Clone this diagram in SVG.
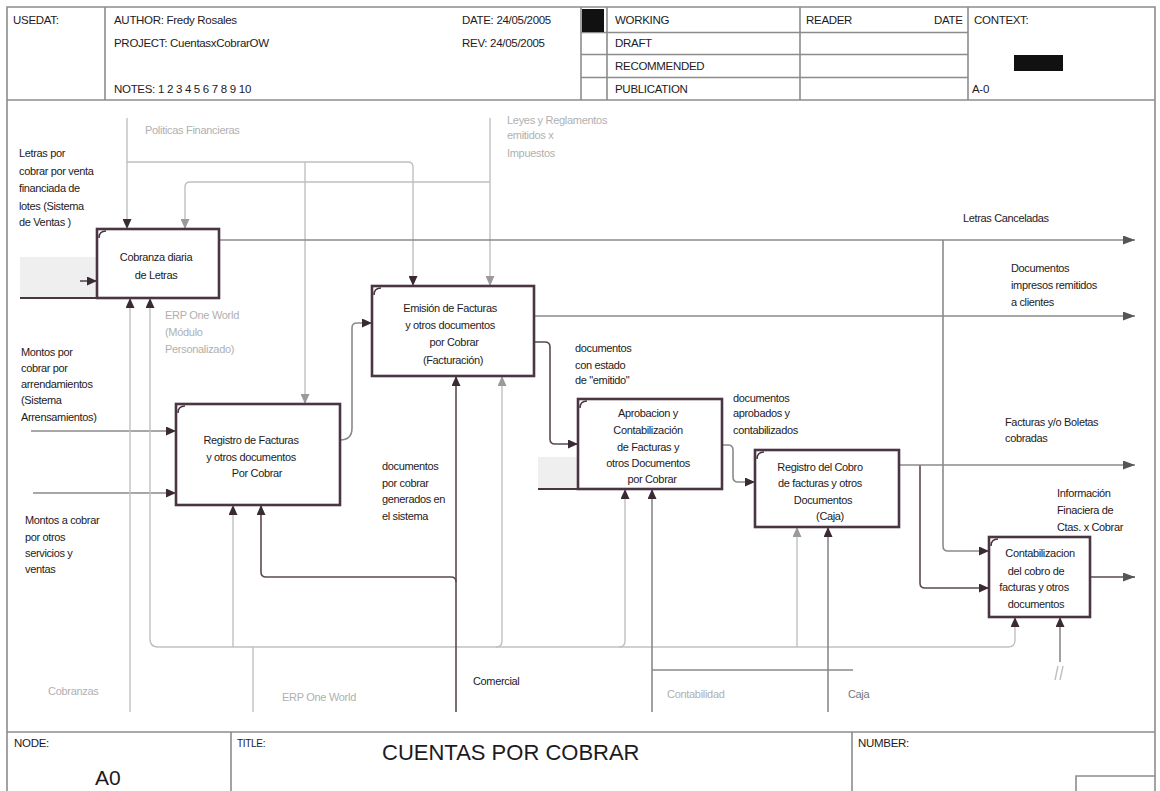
<svg xmlns="http://www.w3.org/2000/svg" width="1160" height="791" viewBox="0 0 1160 791">
<style>
text{font-family:"Liberation Sans",Arial,sans-serif;fill:#1e1a1d}
.h{font-size:11.5px;letter-spacing:-0.3px}
.l{font-size:11px;letter-spacing:-0.35px}
.f{font-size:11px;letter-spacing:-0.3px;fill:#b0b0b0}
.bt{font-size:11px;letter-spacing:-0.35px;text-anchor:middle}
.frame{fill:none;stroke:#8c8c8c;stroke-width:1.6}
.box{fill:#fff;stroke:#4a3542;stroke-width:2.6}
.corner{fill:none;stroke:#4a3542;stroke-width:1.5}
.c{fill:none;stroke-linejoin:round}
.lg{stroke:#c0c0c0;stroke-width:1.4}
.md{stroke:#8a8a8a;stroke-width:1.6}
.dk{stroke:#5a4a55;stroke-width:1.6}
.shade{fill:#efefef}
</style>
<defs>
<marker id="a" markerUnits="userSpaceOnUse" markerWidth="11" markerHeight="9" refX="10" refY="4.5" orient="auto"><path d="M0,0 L10,4.5 L0,9 z" fill="#3a2a34"/></marker>
<marker id="g" markerUnits="userSpaceOnUse" markerWidth="11" markerHeight="9" refX="10" refY="4.5" orient="auto"><path d="M0,0 L10,4.5 L0,9 z" fill="#9a9a9a"/></marker>
<marker id="m" markerUnits="userSpaceOnUse" markerWidth="13" markerHeight="9" refX="12" refY="4.5" orient="auto"><path d="M0,0 L12,4.5 L0,9 z" fill="#555"/></marker>
</defs>
<rect width="1160" height="791" fill="#fff"/>

<g id="frame">
<path class="frame" d="M7,791 V7 H1155 V791"/>
<path class="frame" d="M7,100 H1155"/>
<path class="frame" d="M105,7 V100"/>
<path class="frame" d="M581,7 V100 M607,7 V100 M800,7 V100 M968,7 V100"/>
<path class="frame" d="M581,32.5 H968 M581,54.5 H968 M581,77.5 H968"/>
<rect x="582" y="9" width="22" height="23" fill="#111"/>
<rect x="1014" y="55" width="49" height="16" fill="#111"/>
<text class="h" x="13" y="24">USEDAT:</text>
<text class="h" x="114" y="24">AUTHOR: Fredy Rosales</text>
<text class="h" x="114" y="47">PROJECT: CuentasxCobrarOW</text>
<text class="h" x="114" y="93">NOTES: 1 2 3 4 5 6 7 8 9 10</text>
<text class="h" x="462" y="24">DATE: 24/05/2005</text>
<text class="h" x="462" y="47">REV: 24/05/2005</text>
<text class="h" x="615" y="24">WORKING</text>
<text class="h" x="615" y="47">DRAFT</text>
<text class="h" x="615" y="70">RECOMMENDED</text>
<text class="h" x="615" y="93">PUBLICATION</text>
<text class="h" x="806" y="24">READER</text>
<text class="h" x="934" y="24">DATE</text>
<text class="h" x="974" y="24">CONTEXT:</text>
<text class="h" x="972" y="93">A-0</text>
<path class="frame" d="M7,732 H1155"/>
<path class="frame" d="M231,732 V791 M852,732 V791"/>
<path class="frame" d="M1076,791 V776 H1155"/>
<text class="h" x="14" y="747">NODE:</text>
<text x="95" y="785" style="font-size:21px">A0</text>
<text class="h" x="237" y="747" style="font-size:10px">TITLE:</text>
<text x="382" y="760" style="font-size:22px">CUENTAS POR COBRAR</text>
<text class="h" x="858" y="747">NUMBER:</text>
</g>

<g id="shading">
<rect class="shade" x="20" y="257" width="77" height="41"/>
<path d="M20,298 H97" stroke="#4a3542" stroke-width="2"/>
<rect class="shade" x="538" y="457" width="40" height="32"/>
<path d="M538,489 H578" stroke="#4a3542" stroke-width="2"/>
</g>

<g id="connectors">
<path class="c lg" d="M127,118 V229" marker-end="url(#a)"/>
<path class="c lg" d="M127,162 H408 Q413,162 413,167 V286" marker-end="url(#a)"/>
<path class="c lg" d="M305,162 V404" marker-end="url(#g)"/>
<path class="c lg" d="M490,118 V286" marker-end="url(#g)"/>
<path class="c lg" d="M490,182 H190 Q185,182 185,187 V229" marker-end="url(#g)"/>
<path class="c dk" d="M80,281 H97" marker-end="url(#a)"/>
<path class="c md" d="M31,431 H176" marker-end="url(#a)"/>
<path class="c md" d="M33,493 H176" marker-end="url(#a)"/>
<path class="c md" d="M340,440 Q352,440 352,428 V328 Q352,323 357,323 H372" marker-end="url(#a)"/>
<path class="c dk" d="M534,342 H545 Q550,342 550,347 V439 Q550,444 555,444 H578" marker-end="url(#a)"/>
<path class="c md" d="M722,445 H728 Q733,445 733,450 V477 Q733,482 738,482 H755" marker-end="url(#a)"/>
<path class="c dk" d="M920,465 V583 Q920,588 925,588 H989" marker-end="url(#a)"/>
<path class="c md" d="M943,240 V546 Q943,551 948,551 H989" marker-end="url(#a)"/>
<path class="c md" d="M219,240 H1135" marker-end="url(#m)"/>
<path class="c md" d="M534,316 H1135" marker-end="url(#m)"/>
<path class="c md" d="M899,465 H1135" marker-end="url(#m)"/>
<path class="c dk" d="M1090,577 H1135" marker-end="url(#m)"/>
<path class="c lg" d="M130,712 V298" marker-end="url(#a)"/>
<path class="c lg" d="M158,647 Q150,647 150,639 V298" marker-end="url(#a)"/>
<path class="c lg" d="M158,647 H1008"/>
<path class="c lg" d="M233,647 V505" marker-end="url(#a)"/>
<path class="c lg" d="M253,712 V647"/>
<path class="c lg" d="M496,647 Q502,647 502,641 V376" marker-end="url(#g)"/>
<path class="c lg" d="M619,647 Q625,647 625,641 V489" marker-end="url(#a)"/>
<path class="c lg" d="M797,647 V527" marker-end="url(#g)"/>
<path class="c lg" d="M1008,647 Q1015,647 1015,640 V617" marker-end="url(#a)"/>
<path class="c dk" d="M456,712 V376" marker-end="url(#a)"/>
<path class="c dk" d="M456,582 Q456,577 451,577 H266 Q261,577 261,572 V505" marker-end="url(#a)"/>
<path class="c md" d="M652,712 V489" marker-end="url(#a)"/>
<path class="c md" d="M652,670 H853"/>
<path class="c md" d="M828,712 V527" marker-end="url(#a)"/>
<path class="c md" d="M1060,662 V617" marker-end="url(#a)"/>
<path class="c lg" d="M1058,666 L1055,680 M1063,666 L1060,680"/>
</g>

<g id="node-a1">
<rect class="box" x="97" y="229" width="122" height="69"/>
<path class="corner" d="M99,238 Q99,231 106,231"/>
<text class="bt" x="156" y="261">Cobranza diaria</text>
<text class="bt" x="156" y="279">de Letras</text>
</g>
<g id="node-a2">
<rect class="box" x="176" y="404" width="164" height="101"/>
<path class="corner" d="M178,413 Q178,406 185,406"/>
<text class="bt" x="251" y="444">Registro de Facturas</text>
<text class="bt" x="251" y="461">y otros documentos</text>
<text class="bt" x="257" y="477">Por Cobrar</text>
</g>
<g id="node-a3">
<rect class="box" x="372" y="286" width="162" height="90"/>
<path class="corner" d="M374,295 Q374,288 381,288"/>
<text class="bt" x="450" y="312">Emisión de Facturas</text>
<text class="bt" x="450" y="329">y otros documentos</text>
<text class="bt" x="454" y="346">por Cobrar</text>
<text class="bt" x="453" y="364">(Facturación)</text>
</g>
<g id="node-a4">
<rect class="box" x="578" y="399" width="144" height="90"/>
<path class="corner" d="M580,408 Q580,401 587,401"/>
<text class="bt" x="648" y="417">Aprobacion y</text>
<text class="bt" x="648" y="434">Contabilización</text>
<text class="bt" x="648" y="451">de Facturas y</text>
<text class="bt" x="648" y="467">otros Documentos</text>
<text class="bt" x="652" y="483">por Cobrar</text>
</g>
<g id="node-a5">
<rect class="box" x="755" y="450" width="144" height="77"/>
<path class="corner" d="M757,459 Q757,452 764,452"/>
<text class="bt" x="820" y="471">Registro del Cobro</text>
<text class="bt" x="820" y="487">de facturas y otros</text>
<text class="bt" x="823" y="504">Documentos</text>
<text class="bt" x="830" y="520">(Caja)</text>
</g>
<g id="node-a6">
<rect class="box" x="989" y="537" width="101" height="80"/>
<path class="corner" d="M991,546 Q991,539 998,539"/>
<text class="bt" x="1040" y="557">Contabilizacion</text>
<text class="bt" x="1036" y="575">del cobro de</text>
<text class="bt" x="1034" y="591">facturas y otros</text>
<text class="bt" x="1036" y="608">documentos</text>
</g>

<g id="labels">
<text class="f" x="145" y="134">Politicas Financieras</text>
<text class="f" x="507" y="124">Leyes y Reglamentos</text>
<text class="f" x="507" y="139">emitidos x</text>
<text class="f" x="507" y="157">Impuestos</text>
<text class="l" x="19" y="157">Letras por</text>
<text class="l" x="19" y="175">cobrar por venta</text>
<text class="l" x="19" y="192">financiada de</text>
<text class="l" x="19" y="210">lotes (Sistema</text>
<text class="l" x="19" y="226">de Ventas )</text>
<text class="f" x="165" y="319">ERP One World</text>
<text class="f" x="165" y="336">(Módulo</text>
<text class="f" x="165" y="353">Personalizado)</text>
<text class="l" x="21" y="356">Montos por</text>
<text class="l" x="21" y="372">cobrar por</text>
<text class="l" x="21" y="388">arrendamientos</text>
<text class="l" x="21" y="404">(Sistema</text>
<text class="l" x="21" y="421">Arrensamientos)</text>
<text class="l" x="25" y="524">Montos a cobrar</text>
<text class="l" x="25" y="541">por otros</text>
<text class="l" x="25" y="557">servicios y</text>
<text class="l" x="25" y="573">ventas</text>
<text class="l" x="382" y="470">documentos</text>
<text class="l" x="382" y="487">por cobrar</text>
<text class="l" x="382" y="503">generados en</text>
<text class="l" x="382" y="520">el sistema</text>
<text class="l" x="575" y="352">documentos</text>
<text class="l" x="575" y="369">con estado</text>
<text class="l" x="575" y="384">de "emitido"</text>
<text class="l" x="733" y="402">documentos</text>
<text class="l" x="733" y="417">aprobados y</text>
<text class="l" x="733" y="434">contabilizados</text>
<text class="l" x="963" y="222">Letras Canceladas</text>
<text class="l" x="1011" y="272">Documentos</text>
<text class="l" x="1011" y="289">impresos remitidos</text>
<text class="l" x="1011" y="306">a clientes</text>
<text class="l" x="1005" y="426">Facturas y/o Boletas</text>
<text class="l" x="1005" y="442">cobradas</text>
<text class="l" x="1057" y="497">Información</text>
<text class="l" x="1057" y="514">Finaciera de</text>
<text class="l" x="1057" y="531">Ctas. x Cobrar</text>
<text class="f" x="48" y="695">Cobranzas</text>
<text class="f" x="282" y="701">ERP One World</text>
<text class="l" x="473" y="685">Comercial</text>
<text class="f" x="667" y="698">Contabilidad</text>
<text class="l" x="848" y="698" style="fill:#777">Caja</text>
</g>
</svg>
